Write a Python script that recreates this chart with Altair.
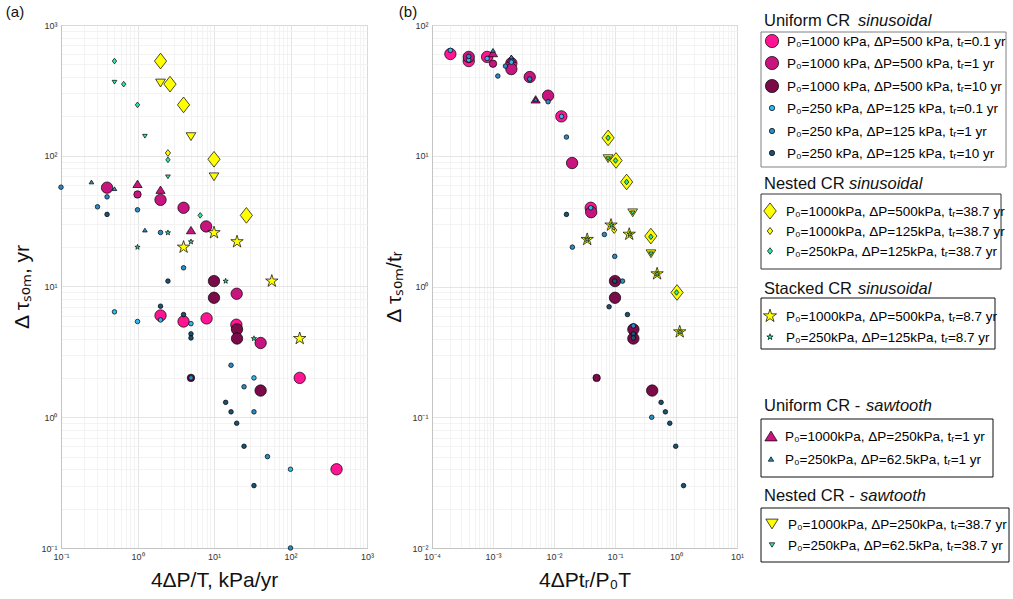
import altair as alt
import pandas as pd

# ---------------- Panel (a): x = 4ΔP/T (kPa/yr), y = Δτ_som (yr) ----------------
a_us_1000_t01_x = [2, 4, 8, 19.6, 132, 400]
a_us_1000_t01_y = [6.0, 5.4, 5.7, 5.1, 2.0, 0.4]
a_us_1000_t1_x = [0.4, 2, 4, 7.9, 19.8, 40.7]
a_us_1000_t1_y = [57, 46, 40, 28.8, 8.8, 3.7]
a_us_1000_t1m_x = [1.0]
a_us_1000_t1m_y = [50.6]
a_us_1000_t10_x = [10, 10, 20, 20, 40.7]
a_us_1000_t10_y = [11, 8.2, 4.7, 4.0, 1.6]
a_us_1000_t10m_x = [5.0]
a_us_1000_t10m_y = [2.0]
a_us_250_t01_x = [0.5, 1, 2, 5, 33.3, 100]
a_us_250_t01_y = [6.4, 5.4, 5.55, 5.2, 2.0, 0.4]
a_us_250_t1_x = [0.1, 0.3, 0.4, 1, 2, 4, 5, 16.7, 24.7, 33.3, 50, 100]
a_us_250_t1_y = [57.5, 40.7, 48.5, 38.6, 25.9, 13.9, 2.0, 2.5, 1.71, 1.1, 0.5, 0.1]
a_us_250_t10_x = [0.4, 2, 2.5, 4, 5, 5, 14.2, 16.7, 19.8, 24.7, 33.3]
a_us_250_t10_y = [35.6, 7.07, 11, 6.1, 4.34, 4.04, 1.30, 1.10, 0.9, 0.6, 0.3]
a_ns_1000_500_x = [2, 2.66, 4, 10, 26.5]
a_ns_1000_500_y = [530, 353, 245, 94, 35]
a_ns_1000_125_x = [2.5]
a_ns_1000_125_y = [105]
a_ns_250_125_x = [0.5, 0.66, 1.0, 2.5, 6.6]
a_ns_250_125_y = [530, 353, 245, 93, 35]
a_ss_1000_x = [4, 10, 20, 57, 132]
a_ss_1000_y = [20, 25.8, 22, 11, 4.0]
a_ss_250_x = [1, 2.5, 5, 14.2, 33.3]
a_ss_250_y = [20, 25.8, 22, 11, 4.0]
a_ut_1000_x = [1, 2, 5]
a_ut_1000_y = [61, 55, 27]
a_ut_250_x = [0.25, 0.5, 1.25]
a_ut_250_y = [63, 56, 27]
a_nt_1000_x = [2, 5, 10]
a_nt_1000_y = [360, 140, 69]
a_nt_250_x = [0.5, 1.25, 2.5]
a_nt_250_y = [365, 141, 69]

# ---------------- Panel (b): x = 4ΔP t_r / (P0 T), y = Δτ_som / t_r ----------------
b_us_1000_t01_x = [2e-4, 4e-4, 8e-4, 2e-3, 0.0132, 0.04]
b_us_1000_t01_y = [60, 53, 57, 51, 20, 4.0]
b_us_1000_t1_x = [4e-4, 2e-3, 4e-3, 8e-3, 0.0198, 0.0407]
b_us_1000_t1_y = [57, 46, 40, 28.8, 8.8, 3.7]
b_us_1000_t1m_x = [1e-3]
b_us_1000_t1m_y = [50.6]
b_us_1000_t10_x = [0.1, 0.1, 0.2, 0.2, 0.407]
b_us_1000_t10_y = [1.1, 0.82, 0.47, 0.40, 0.16]
b_us_1000_t10m_x = [0.05]
b_us_1000_t10m_y = [0.2]
b_us_250_t01_x = [2e-4, 4e-4, 8e-4, 2e-3, 0.0133, 0.04]
b_us_250_t01_y = [64, 54, 55.5, 52, 20, 4.0]
b_us_250_t1_x = [4e-4, 1.2e-3, 1.6e-3, 4e-3, 8e-3, 0.016, 0.02, 0.067, 0.099, 0.133, 0.2, 0.4]
b_us_250_t1_y = [57.5, 40.7, 48.5, 38.6, 25.9, 13.9, 2.0, 2.5, 1.7, 1.1, 0.5, 0.1]
b_us_250_t10_x = [0.016, 0.08, 0.099, 0.16, 0.2, 0.2, 0.57, 0.67, 0.79, 0.99, 1.33]
b_us_250_t10_y = [3.56, 0.70, 1.1, 0.61, 0.434, 0.404, 0.13, 0.11, 0.09, 0.06, 0.03]
b_ns_1000_500_x = [0.077, 0.104, 0.155, 0.387, 1.04]
b_ns_1000_500_y = [13.7, 9.2, 6.3, 2.43, 0.9]
b_ns_1000_125_x = [0.097]
b_ns_1000_125_y = [2.7]
b_ns_250_125_x = [0.077, 0.102, 0.155, 0.387, 1.02]
b_ns_250_125_y = [13.7, 9.2, 6.3, 2.4, 0.9]
b_ss_1000_x = [0.035, 0.086, 0.171, 0.49, 1.15]
b_ss_1000_y = [2.29, 2.95, 2.51, 1.25, 0.45]
b_ss_250_x = [0.035, 0.087, 0.174, 0.49, 1.16]
b_ss_250_y = [2.29, 2.95, 2.51, 1.25, 0.45]
b_ut_1000_x = [1e-3, 2e-3, 5e-3]
b_ut_1000_y = [61, 55, 27]
b_ut_250_x = [1e-3, 2e-3, 5e-3]
b_ut_250_y = [64, 57, 27]
b_nt_1000_x = [0.077, 0.195, 0.389]
b_nt_1000_y = [9.5, 3.66, 1.78]
b_nt_250_x = [0.077, 0.195, 0.389]
b_nt_250_y = [9.5, 3.66, 1.78]

# ---------------- Legend text ----------------
legend_titles = ["Uniform CR", "Nested CR", "Stacked CR", "Uniform CR -", "Nested CR -"]
legend_titles_it = ["sinusoidal", "sinusoidal", "sinusoidal", "sawtooth", "sawtooth"]
legend_labels = [
    ["P\u2080=1000 kPa, \u0394P=500 kPa, t\u1d63=0.1 yr",
     "P\u2080=1000 kPa, \u0394P=500 kPa, t\u1d63=1 yr",
     "P\u2080=1000 kPa, \u0394P=500 kPa, t\u1d63=10 yr",
     "P\u2080=250 kPa, \u0394P=125 kPa, t\u1d63=0.1 yr",
     "P\u2080=250 kPa, \u0394P=125 kPa, t\u1d63=1 yr",
     "P\u2080=250 kPa, \u0394P=125 kPa, t\u1d63=10 yr"],
    ["P\u2080=1000kPa, \u0394P=500kPa, t\u1d63=38.7 yr",
     "P\u2080=1000kPa, \u0394P=125kPa, t\u1d63=38.7 yr",
     "P\u2080=250kPa, \u0394P=125kPa, t\u1d63=38.7 yr"],
    ["P\u2080=1000kPa, \u0394P=500kPa, t\u1d63=8.7 yr",
     "P\u2080=250kPa, \u0394P=125kPa, t\u1d63=8.7 yr"],
    ["P\u2080=1000kPa, \u0394P=250kPa, t\u1d63=1 yr",
     "P\u2080=250kPa, \u0394P=62.5kPa, t\u1d63=1 yr"],
    ["P\u2080=1000kPa, \u0394P=250kPa, t\u1d63=38.7 yr",
     "P\u2080=250kPa, \u0394P=62.5kPa, t\u1d63=38.7 yr"],
]
legend_keys = [
    ["us_1000_t01", "us_1000_t1", "us_1000_t10", "us_250_t01", "us_250_t1", "us_250_t10"],
    ["ns_1000_500", "ns_1000_125", "ns_250_125"],
    ["ss_1000", "ss_250"],
    ["ut_1000", "ut_250"],
    ["nt_1000", "nt_250"],
]

# ---------------- Styles ----------------
DIAMOND = "M0,-1L0.78,0L0,1L-0.78,0Z"
TRI_UP = "M0,-0.8L1,0.8L-1,0.8Z"
TRI_DN = "M-1,-0.8L1,-0.8L0,0.8Z"
STAR = ("M0,-1L0.2245,-0.309L0.951,-0.309L0.363,0.118L0.588,0.809L0,0.382"
        "L-0.588,0.809L-0.363,0.118L-0.951,-0.309L-0.2245,-0.309Z")

PINK1, PINK2, PINK3 = "#FF1493", "#C8147F", "#7A0A48"
BLUE1, BLUE2, BLUE3 = "#33B8EE", "#2A8CC6", "#1B5272"
GREEN, YELLOW = "#33E6A3", "#FFFF00"

# key: (shape, fill, plot size, legend size, draw order)
styles = {
    "us_1000_t01": ("circle", PINK1, 130, 175, 1),
    "us_1000_t1": ("circle", PINK2, 130, 175, 2),
    "us_1000_t1m": ("circle", PINK2, 55, 55, 2),
    "us_1000_t10": ("circle", PINK3, 130, 175, 3),
    "us_1000_t10m": ("circle", PINK3, 55, 55, 3),
    "ut_1000": (TRI_UP, PINK2, 85, 150, 4),
    "ns_1000_500": (DIAMOND, YELLOW, 245, 260, 5),
    "ns_1000_125": (DIAMOND, YELLOW, 45, 50, 6),
    "nt_1000": (TRI_DN, YELLOW, 95, 150, 7),
    "ss_1000": (STAR, YELLOW, 170, 190, 8),
    "us_250_t01": ("circle", BLUE1, 21, 28, 10),
    "us_250_t1": ("circle", BLUE2, 21, 28, 11),
    "us_250_t10": ("circle", BLUE3, 21, 28, 12),
    "ut_250": (TRI_UP, BLUE2, 22, 30, 13),
    "ns_250_125": (DIAMOND, GREEN, 32, 42, 14),
    "nt_250": (TRI_DN, GREEN, 22, 30, 15),
    "ss_250": (STAR, GREEN, 30, 42, 16),
}

g = globals()


def build(prefix):
    rows = []
    for key, (shape, fill, size, _ls, order) in styles.items():
        xs = g[f"{prefix}_{key}_x"]
        ys = g[f"{prefix}_{key}_y"]
        for xv, yv in zip(xs, ys):
            rows.append({"x": xv, "y": yv, "shape": shape, "fill": fill,
                         "size": size, "order": order})
    return pd.DataFrame(rows)


def log_ticks(lo, hi):
    vals = []
    for e in range(lo, hi):
        for m in range(1, 10):
            vals.append(float(f"{m}e{e}"))
    vals.append(float(f"1e{hi}"))
    return vals


SUP = {"-4": "\u207b\u2074", "-3": "\u207b\u00b3", "-2": "\u207b\u00b2", "-1": "\u207b\u00b9",
       "0": "\u2070", "1": "\u00b9", "2": "\u00b2", "3": "\u00b3"}


def axis(lo, hi, title, title_pad, orient):
    majors = [float(f"1e{e}") for e in range(lo, hi + 1)]
    expr = ""
    for e in range(lo, hi + 1):
        expr += f"datum.value == {float(f'1e{e}')!r} ? '10{SUP[str(e)]}' : "
    expr += "''"
    test = "indexof([" + ",".join(repr(m) for m in majors) + "], datum.value) >= 0"
    return alt.Axis(
        values=log_ticks(lo, hi), labelExpr=expr, title=title,
        gridColor={"condition": {"test": test, "value": "#dedede"}, "value": "#f0f0f0"},
        gridWidth=0.8, ticks=False, labelOverlap=False, labelFlush=False,
        labelFontSize=9, labelColor="#333333", labelPadding=4,
        titleFontSize=21, titleFontWeight="normal", titleColor="#111111",
        titlePadding=title_pad, domainColor="#c4c4c4", orient=orient,
    )


def panel(prefix, xlo, xhi, ylo, yhi, xtitle, ytitle, xpad, ypad, tag, tagx, width):
    df = build(prefix)
    pts = alt.Chart(df).mark_point(
        filled=True, opacity=1, stroke="#000000", strokeWidth=0.7
    ).encode(
        x=alt.X("x:Q", scale=alt.Scale(type="log", domain=[10 ** xlo, 10 ** xhi], nice=False),
                axis=axis(xlo, xhi, xtitle, xpad, "bottom")),
        y=alt.Y("y:Q", scale=alt.Scale(type="log", domain=[10 ** ylo, 10 ** yhi], nice=False),
                axis=axis(ylo, yhi, ytitle, ypad, "left")),
        shape=alt.Shape("shape:N", scale=None),
        fill=alt.Fill("fill:N", scale=None),
        size=alt.Size("size:Q", scale=None),
        order=alt.Order("order:Q"),
    )
    lab = alt.Chart(pd.DataFrame({"t": [tag]})).mark_text(
        fontSize=15, align="center", baseline="middle", color="#111111"
    ).encode(x=alt.value(tagx), y=alt.value(-13), text="t:N")
    return alt.layer(pts, lab).properties(width=width, height=523)


pa = panel("a", -1, 3, -1, 3, "4\u0394P/T, kPa/yr", "\u0394 \u03c4\u209b\u2092\u2098, yr",
           8, 8, "(a)", -46, 306)
pb = panel("b", -4, 1, -2, 2, "4\u0394Pt\u1d63/P\u2080T", "\u0394 \u03c4\u209b\u2092\u2098/t\u1d63",
           8, 7, "(b)", -24, 305)

# ---------------- Legend panel (pixel layout) ----------------
LX0, LY0 = 755, 24
title_y = [20, 183, 288, 405, 495]
title_x = [765, 765, 765, 765, 765]
title_it_x = [859, 850, 859, 867, 861]
boxes = [(762, 31, 1007, 166), (762, 193, 1002, 268), (762, 297, 996, 348),
         (762, 418, 994, 476), (762, 507, 1010, 561)]
box_col = ["#808080", "#333333", "#111111", "#111111", "#111111"]
rows_y = [[41, 63, 86, 108, 131, 153], [211, 231, 251], [316, 337], [436, 459], [524, 545]]
mark_x = [773, 771, 771, 772, 773]
text_x = [788, 787, 787, 786, 789]

t_rows, m_rows, b_rows, tt_rows = [], [], [], []
for gi in range(5):
    tt_rows.append({"x": title_x[gi] - LX0, "y": title_y[gi] - LY0, "t": legend_titles[gi],
                    "xi": title_it_x[gi] - LX0, "ti": legend_titles_it[gi]})
    x0, y0, x1, y1 = boxes[gi]
    b_rows.append({"x0": x0 - LX0, "x1": x1 - LX0, "y0": y0 - LY0, "y1": y1 - LY0,
                   "c": box_col[gi]})
    for ri, lab in enumerate(legend_labels[gi]):
        shape, fill, _s, lsize, order = styles[legend_keys[gi][ri]]
        yy = rows_y[gi][ri] - LY0
        m_rows.append({"x": mark_x[gi] - LX0, "y": yy - 1, "shape": shape, "fill": fill,
                       "size": lsize})
        t_rows.append({"x": text_x[gi] - LX0, "y": yy, "t": lab})

leg_boxes = alt.Chart(pd.DataFrame(b_rows)).mark_rect(fill="transparent", strokeWidth=1).encode(
    x=alt.X("x0:Q", scale=None, axis=None), x2="x1:Q",
    y=alt.Y("y0:Q", scale=None, axis=None), y2="y1:Q",
    stroke=alt.Stroke("c:N", scale=None),
)
leg_marks = alt.Chart(pd.DataFrame(m_rows)).mark_point(
    filled=True, opacity=1, stroke="#000000", strokeWidth=0.7
).encode(
    x=alt.X("x:Q", scale=None, axis=None), y=alt.Y("y:Q", scale=None, axis=None),
    shape=alt.Shape("shape:N", scale=None), fill=alt.Fill("fill:N", scale=None),
    size=alt.Size("size:Q", scale=None),
)
leg_text = alt.Chart(pd.DataFrame(t_rows)).mark_text(
    align="left", baseline="middle", fontSize=13.5, color="#000000"
).encode(x=alt.X("x:Q", scale=None, axis=None), y=alt.Y("y:Q", scale=None, axis=None), text="t:N")
leg_title = alt.Chart(pd.DataFrame(tt_rows)).mark_text(
    align="left", baseline="middle", fontSize=16.5, color="#111111"
).encode(x=alt.X("x:Q", scale=None, axis=None), y=alt.Y("y:Q", scale=None, axis=None), text="t:N")
leg_title_it = alt.Chart(pd.DataFrame(tt_rows)).mark_text(
    align="left", baseline="middle", fontSize=16.5, fontStyle="italic", color="#111111"
).encode(x=alt.X("xi:Q", scale=None, axis=None), y=alt.Y("y:Q", scale=None, axis=None), text="ti:N")

legend = alt.layer(leg_boxes, leg_marks, leg_text, leg_title, leg_title_it).properties(
    width=255, height=523, view=alt.ViewBackground(stroke="transparent")
)

chart = alt.hconcat(pa, pb, legend, spacing=8).properties(
    padding={"left": 5, "top": 4, "right": 0, "bottom": 0}
).configure(font="Liberation Sans").configure_view(stroke="#c4c4c4", strokeWidth=1)

chart.save("out.html", embed_options={"renderer": "svg", "actions": False})
